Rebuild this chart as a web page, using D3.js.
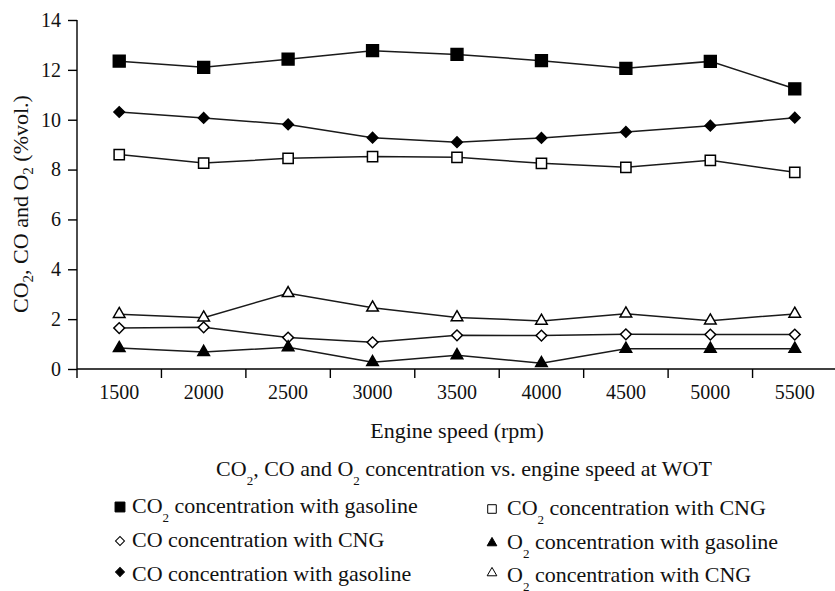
<!DOCTYPE html>
<html lang='en'>
<head>
  <meta charset='UTF-8'>
  <title>CO2, CO and O2 vs engine speed</title>
  <style>
    body { margin: 0; background: #fff; }
    text { font-family: 'Liberation Serif', 'Times New Roman', serif; fill: #111; }
  </style>
</head>
<body>
  <script src='https://cdn.jsdelivr.net/npm/d3@7/dist/d3.min.js'></script>
  <script>
// 画布大小
const width = 835;
const height = 591;
const serif = "'Liberation Serif', 'Times New Roman', serif";

// data
const speeds = ['1500', '2000', '2500', '3000', '3500', '4000', '4500', '5000', '5500'];
const co2Gasoline = [12.35, 12.1, 12.43, 12.77, 12.62, 12.37, 12.06, 12.34, 11.24];
const coGasoline  = [10.31, 10.07, 9.81, 9.28, 9.1, 9.27, 9.51, 9.76, 10.08];
const co2Cng      = [8.6, 8.26, 8.45, 8.52, 8.49, 8.25, 8.09, 8.37, 7.89];
const o2Cng       = [2.2, 2.06, 3.04, 2.46, 2.07, 1.93, 2.22, 1.94, 2.21];
const coCng       = [1.64, 1.67, 1.26, 1.07, 1.35, 1.34, 1.39, 1.38, 1.38];
const o2Gasoline  = [0.84, 0.68, 0.87, 0.27, 0.55, 0.23, 0.81, 0.81, 0.81];
const yTicks = [0, 2, 4, 6, 8, 10, 12, 14];

// series: values + marker style (diamonds = squares turned 45°)
const series = [
  { values: co2Gasoline, shape: d3.symbolSquare,   rot: 0,  fill: '#000', size: 140 },
  { values: coGasoline,  shape: d3.symbolSquare,   rot: 45, fill: '#000', size: 56 },
  { values: co2Cng,      shape: d3.symbolSquare,   rot: 0,  fill: '#fff', size: 105 },
  { values: o2Cng,       shape: d3.symbolTriangle, rot: 0,  fill: '#fff', size: 58 },
  { values: coCng,       shape: d3.symbolSquare,   rot: 45, fill: '#fff', size: 58 },
  { values: o2Gasoline,  shape: d3.symbolTriangle, rot: 0,  fill: '#000', size: 58 }
];

const svg = d3.select('body').append('svg')
  .attr('width', width)
  .attr('height', height);

const plotLeft = 77, plotRight = 837, plotTop = 20, plotBottom = 369;

const x = d3.scaleBand().domain(speeds).range([plotLeft, plotRight]);
const y = d3.scaleLinear().domain([0, 14]).range([plotBottom, plotTop]);

// y axis
const yAxis = svg.append('g')
  .attr('transform', 'translate(' + plotLeft + ',0)')
  .call(d3.axisLeft(y).tickValues(yTicks).tickSize(9).tickPadding(7).tickFormat(d3.format('d')));
yAxis.select('.domain').attr('d', 'M0,' + plotTop + 'V' + plotBottom).attr('stroke', '#000').attr('stroke-width', 1.4);
yAxis.selectAll('.tick line').attr('stroke', '#000').attr('stroke-width', 1.4);
yAxis.selectAll('.tick text').style('font-size', '20px').style('font-family', serif).attr('fill', '#111');

// x axis: labels at band centres, ticks at band edges
const xAxis = svg.append('g')
  .attr('transform', 'translate(0,' + plotBottom + ')')
  .call(d3.axisBottom(x).tickSize(0).tickPadding(16));
xAxis.select('.domain').attr('d', 'M' + plotLeft + ',0H' + plotRight).attr('stroke', '#000').attr('stroke-width', 1.4);
xAxis.selectAll('.tick text').style('font-size', '20px').style('font-family', serif).attr('fill', '#111');
xAxis.selectAll('.edge')
  .data(speeds)
  .enter()
  .append('line')
  .attr('x1', d => x(d)).attr('x2', d => x(d))
  .attr('y1', 0).attr('y2', 9)
  .attr('stroke', '#000').attr('stroke-width', 1.4);

const line = d3.line()
  .x((d, i) => x(speeds[i]) + x.bandwidth() / 2)
  .y(d => y(d));

series.forEach(s => {
  svg.append('path')
    .attr('d', line(s.values))
    .attr('fill', 'none')
    .attr('stroke', '#1a1a1a')
    .attr('stroke-width', 1.5);
});

series.forEach(s => {
  svg.selectAll(null)
    .data(s.values)
    .enter()
    .append('path')
    .attr('transform', (d, i) => 'translate(' + (x(speeds[i]) + x.bandwidth() / 2) + ',' + y(d) + ') rotate(' + s.rot + ')')
    .attr('d', d3.symbol().type(s.shape).size(s.size))
    .attr('fill', s.fill)
    .attr('stroke', '#000')
    .attr('stroke-width', 1.5);
});

// text with subscripts; the baseline goes back up on the following piece
function subText(sel, parts, drop, subSize) {
  let back = 0;
  parts.forEach(p => {
    if (typeof p === 'string') {
      sel.append('tspan').text(p).attr('dy', -back);
      back = 0;
    } else {
      sel.append('tspan').text(p.s).attr('dy', drop - back).style('font-size', subSize);
      back = drop;
    }
  });
}

// axis titles
const yTitle = svg.append('text')
  .attr('transform', 'translate(28,204) rotate(-90)')
  .attr('text-anchor', 'middle')
  .style('font-family', serif)
  .style('font-size', '22px');
subText(yTitle, ['CO', { s: '2' }, ', CO and O', { s: '2' }, ' (%vol.)'], 5, '15px');

svg.append('text')
  .attr('x', 457).attr('y', 438)
  .attr('text-anchor', 'middle')
  .style('font-family', serif)
  .style('font-size', '22px')
  .text('Engine speed (rpm)');

const caption = svg.append('text')
  .attr('x', 464).attr('y', 476)
  .attr('text-anchor', 'middle')
  .style('font-family', serif)
  .style('font-size', '22px');
subText(caption, ['CO', { s: '2' }, ', CO and O', { s: '2' }, ' concentration vs. engine speed at WOT'], 9, '13px');

// legend
const legendItems = [
  { s: 0, x: 120, y: 513, parts: ['CO', { s: '2' }, ' concentration with gasoline'] },
  { s: 4, x: 120, y: 547, parts: ['CO concentration with CNG'] },
  { s: 1, x: 120, y: 581, parts: ['CO concentration with gasoline'] },
  { s: 2, x: 492, y: 515, parts: ['CO', { s: '2' }, ' concentration with CNG'] },
  { s: 5, x: 492, y: 549, parts: ['O', { s: '2' }, ' concentration with gasoline'] },
  { s: 3, x: 492, y: 582, parts: ['O', { s: '2' }, ' concentration with CNG'] }
];

legendItems.forEach((it, k) => {
  const s = series[it.s];
  const lift = (k === 2 || k === 5) ? 9 : 6;
  svg.append('path')
    .attr('transform', 'translate(' + it.x + ',' + (it.y - lift) + ') rotate(' + s.rot + ')')
    .attr('d', d3.symbol().type(s.shape).size(s.size * 0.7))
    .attr('fill', s.fill)
    .attr('stroke', '#000')
    .attr('stroke-width', 1);
  const t = svg.append('text')
    .attr('x', it.x + (it.x > 300 ? 15 : 12)).attr('y', it.y)
    .style('font-family', serif)
    .style('font-size', '22px');
  subText(t, it.parts, 9, '13px');
});
  </script>
</body>
</html>
